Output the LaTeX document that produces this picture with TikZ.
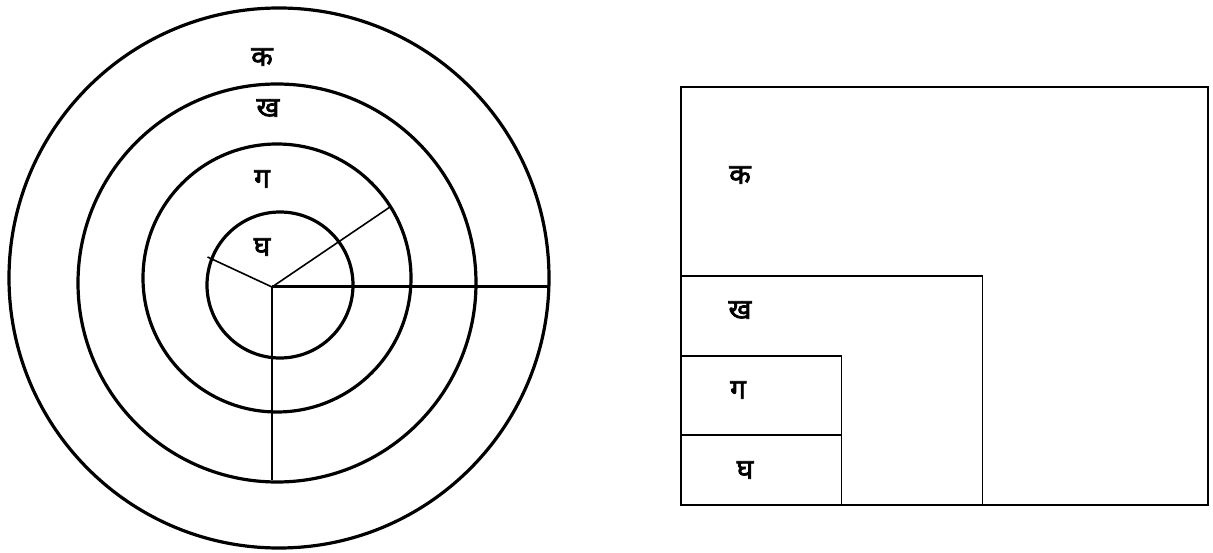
\documentclass[tikz,border=0pt]{standalone}
\usepackage{fontspec}
\newfontfamily\dev[Script=Devanagari,FakeBold=2.5]{Noto Sans}
\tikzset{
  ring/.style={line width=3.2pt},
  ray/.style={line width=1.6pt},
  thickray/.style={line width=3pt},
  box/.style={line width=2pt},
  inbox/.style={line width=1.6pt},
  lbl/.style={font=\dev\fontsize{28}{32}\selectfont, inner sep=0pt}
}
\begin{document}
\begin{tikzpicture}[x=1pt,y=-1pt]
\useasboundingbox (0,0) rectangle (1213,553);
% circles
\draw[ring] (279,278) circle (270);
\draw[ring] (277,283) circle (199);
\draw[ring] (277,278) circle (134);
\draw[ring] (280,285) circle (73);
% rays
\coordinate (o) at (272,287);
\coordinate (e1) at (548.5,287);
\coordinate (e2) at (272,480);
\coordinate (e3) at (390,207);
\coordinate (e4) at (207.5,257);
\draw[thickray] (o) -- (e1);
\draw[ray] (o) -- (e2);
\draw[ray] (o) -- (e3);
\draw[ray] (o) -- (e4);
% circle labels
\node[lbl] (ck) at (262,57) {क};
\node[lbl] (ckh) at (268,108) {ख};
\node[lbl] (cg) at (262,179) {ग};
\node[lbl] (cgh) at (262,247) {घ};
% rectangles
\draw[box] (681,87) rectangle (1208,505);
\draw[inbox] (681,276) rectangle (982.5,505);
\draw[inbox] (681,356) rectangle (841.5,435);
\draw[inbox] (681,435) rectangle (841.5,505);
\draw[box] (681,505) -- (1208,505);
% rectangle labels
\node[lbl] (rk) at (740,175) {क};
\node[lbl] (rkh) at (740,310) {ख};
\node[lbl] (rg) at (738,390) {ग};
\node[lbl] (rgh) at (745,470) {घ};
\end{tikzpicture}
\end{document}
